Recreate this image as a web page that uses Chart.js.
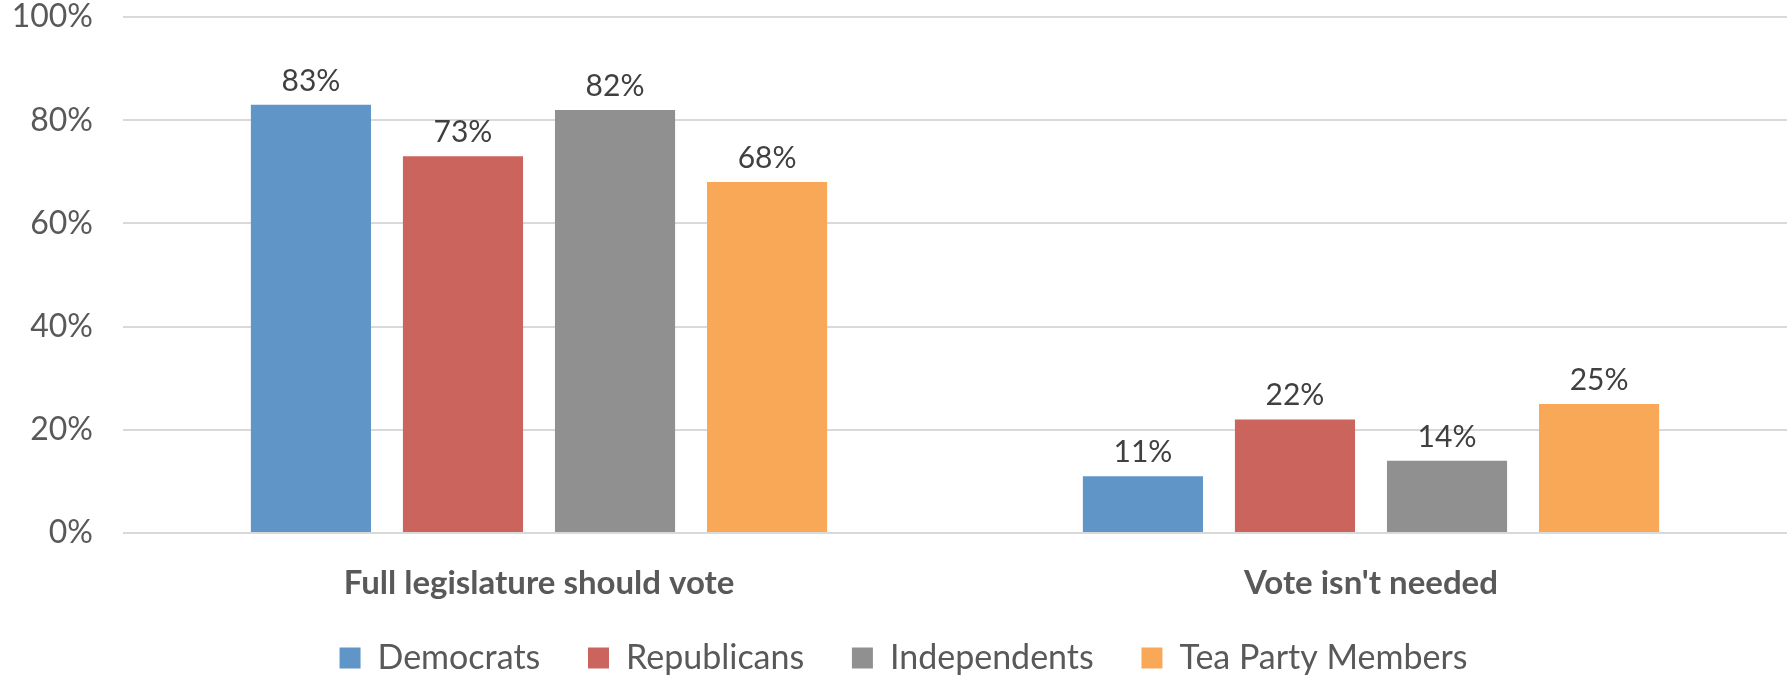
<!DOCTYPE html>
<html>
<head>
<meta charset="utf-8">
<script src="https://cdn.jsdelivr.net/npm/chart.js@4"></script>
<style>
  html, body { margin: 0; padding: 0; background: #fff; }
  #wrap { width: 1787px; height: 678px; }
</style>
</head>
<body>
<div id="wrap"><canvas id="voteChart" width="1787" height="678"></canvas></div>
<script>
// data
const categories = ['Full legislature should vote', "Vote isn't needed"];
const seriesNames = ['Democrats', 'Republicans', 'Independents', 'Tea Party Members'];
const democrats = [83, 11];
const republicans = [73, 22];
const independents = [82, 14];
const teaParty = [68, 25];
const yTicks = [0, 20, 40, 60, 80, 100];

const colors = ['#6095C8', '#CC645E', '#909090', '#F8A857'];
const seriesValues = [democrats, republicans, independents, teaParty];

// value labels above each bar
const barLabels = {
  id: 'barLabels',
  afterDatasetsDraw(chart) {
    const ctx = chart.ctx;
    ctx.save();
    ctx.font = '30px Lato';
    ctx.fillStyle = '#404040';
    ctx.textAlign = 'center';
    ctx.textBaseline = 'alphabetic';
    chart.data.datasets.forEach((ds, i) => {
      chart.getDatasetMeta(i).data.forEach((bar, j) => {
        ctx.fillText(ds.data[j] + '%', bar.x, bar.y - 14);
      });
    });
    ctx.restore();
  }
};

// the original legend sits a bit right of centre
const legendNudge = {
  id: 'legendNudge',
  afterLayout(chart) {
    chart.legend.left += 10;
    chart.legend.right += 10;
  }
};

const ctx = document.getElementById('voteChart').getContext('2d');
new Chart(ctx, {
  type: 'bar',
  data: {
    labels: categories,
    datasets: seriesNames.map((name, i) => ({
      label: name,
      data: seriesValues[i],
      backgroundColor: colors[i],
      borderWidth: 0,
      categoryPercentage: 0.731,
      barPercentage: 0.79
    }))
  },
  options: {
    responsive: false,
    animation: false,
    layout: { padding: { top: 17, bottom: -7, left: 0, right: 0 } },
    scales: {
      x: {
        grid: { display: false, drawTicks: false },
        border: { display: false },
        ticks: {
          maxRotation: 0,
          padding: 31,
          color: '#595959',
          font: { family: 'Lato', size: 33, weight: 'bold' }
        },
        afterFit(scale) {
          scale.height = 69;
          scale.paddingLeft = 0;
          scale.paddingRight = 0;
        }
      },
      y: {
        min: 0,
        max: 100,
        afterBuildTicks(scale) {
          scale.ticks = yTicks.map(v => ({ value: v }));
        },
        grid: { color: '#d9d9d9', lineWidth: 2, drawTicks: false },
        border: { display: false },
        ticks: {
          padding: 30,
          color: '#595959',
          font: { family: 'Lato', size: 32 },
          callback: v => v + '%'
        },
        afterFit(scale) {
          scale.width = 123;
          scale.paddingTop = 0;
          scale.paddingBottom = 0;
        }
      }
    },
    plugins: {
      legend: {
        position: 'bottom',
        labels: {
          boxWidth: 21,
          boxHeight: 21,
          padding: 39,
          color: '#595959',
          font: { family: 'Lato', size: 34 },
          // a little extra room after each entry, as in the original
          generateLabels(chart) {
            const items = Chart.defaults.plugins.legend.labels.generateLabels(chart);
            items.forEach((it, i) => {
              if (i < items.length - 1) it.text += ' ';
            });
            return items;
          }
        }
      },
      tooltip: { enabled: false }
    }
  },
  plugins: [barLabels, legendNudge]
});
</script>
</body>
</html>
